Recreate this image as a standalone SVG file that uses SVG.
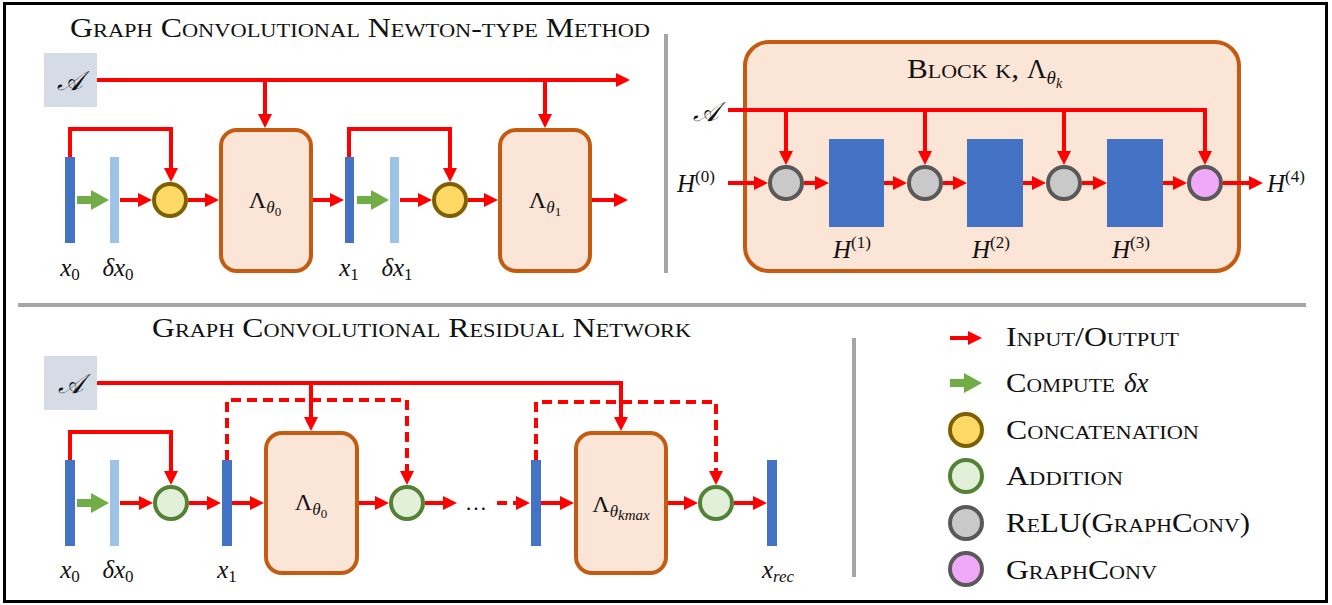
<svg xmlns="http://www.w3.org/2000/svg" width="1332" height="605" viewBox="0 0 1332 605">
<style>
.sc{font-family:"Liberation Serif","Times New Roman",serif;font-variant:small-caps;font-size:27px;fill:#111}
.mi{font-family:"Liberation Serif","Times New Roman",serif;font-style:italic;fill:#111}
.up{font-style:normal}
.cal{font-family:"DejaVu Serif","DejaVu Sans",serif;font-style:italic;font-size:27px;fill:#111}
.r{fill:none;stroke:#ff0000;stroke-width:4}
.ra{fill:none;stroke:#ff0000;stroke-width:4;marker-end:url(#ah)}
.da{stroke-dasharray:10 6}
.blk{fill:#fbe5d6;stroke:#c55a11;stroke-width:4}
.abox{fill:#d6dce5}
.dk{fill:#4472c4}
.lt{fill:#9dc3e6}
.cat{fill:#ffd966;stroke:#7f6000;stroke-width:4}
.add{fill:#e2f0d9;stroke:#548235;stroke-width:4}
.relu{fill:#c9c9c9;stroke:#595959;stroke-width:4}
.gc{fill:#f0a8f8;stroke:#595959;stroke-width:4}
.div{stroke:#a6a6a6;stroke-width:4;fill:none}
</style>
<defs>
<marker id="ah" markerUnits="userSpaceOnUse" markerWidth="16" markerHeight="14" refX="4" refY="7" orient="auto"><path d="M0,0 L14,7 L0,14 Z" fill="#ff0000"/></marker>
<path id="garrow" d="M0,-4 H14 V-10 L32,0 L14,10 V4 H0 Z" fill="#70ad47"/>
</defs>
<rect x="0" y="0" width="1332" height="605" fill="#fff"/>
<rect x="4.5" y="3.5" width="1322" height="598" fill="none" stroke="#000" stroke-width="3"/>
<g id="dividers">
<line class="div" x1="666" y1="34" x2="666" y2="273"/>
<line class="div" x1="18" y1="305" x2="1306" y2="305"/>
<line class="div" x1="854" y1="338" x2="854" y2="577" stroke-width="3"/>
</g>
<g id="titles">
<text class="sc" x="70" y="37" textLength="580" lengthAdjust="spacingAndGlyphs">Graph Convolutional Newton-type Method</text>
<text class="sc" x="152" y="337" textLength="539" lengthAdjust="spacingAndGlyphs">Graph Convolutional Residual Network</text>
</g>

<!-- ===== TOP LEFT ===== -->
<g id="tl-A"><rect class="abox" x="44" y="53" width="53" height="54"/><text class="cal" x="70" y="90" text-anchor="middle">𝒜</text></g>
<g id="tl-x0"><rect class="dk" x="65" y="157" width="10" height="86"/><text class="mi" x="70" y="276" font-size="25" text-anchor="middle">x<tspan class="up" dy="4" font-size="17">0</tspan></text></g>
<g id="tl-dx0"><rect class="lt" x="110" y="157" width="9" height="86"/><text class="mi" x="118" y="276" font-size="25" text-anchor="middle">δx<tspan class="up" dy="4" font-size="17">0</tspan></text></g>
<g id="tl-cat0"><circle class="cat" cx="170" cy="200" r="16"/></g>
<g id="tl-L0"><rect class="blk" x="221" y="130" width="90" height="141" rx="16"/><text class="mi" x="265" y="208" font-size="24" text-anchor="middle"><tspan class="up">Λ</tspan><tspan dy="5" font-size="17">θ</tspan><tspan class="up" dy="3" font-size="13">0</tspan></text></g>
<g id="tl-x1"><rect class="dk" x="345" y="157" width="9" height="86"/><text class="mi" x="349" y="276" font-size="25" text-anchor="middle">x<tspan class="up" dy="4" font-size="17">1</tspan></text></g>
<g id="tl-dx1"><rect class="lt" x="390" y="157" width="9" height="86"/><text class="mi" x="397" y="276" font-size="25" text-anchor="middle">δx<tspan class="up" dy="4" font-size="17">1</tspan></text></g>
<g id="tl-cat1"><circle class="cat" cx="450" cy="200" r="16"/></g>
<g id="tl-L1"><rect class="blk" x="500" y="130" width="90" height="141" rx="16"/><text class="mi" x="545" y="208" font-size="24" text-anchor="middle"><tspan class="up">Λ</tspan><tspan dy="5" font-size="17">θ</tspan><tspan class="up" dy="3" font-size="13">1</tspan></text></g>

<!-- ===== TOP RIGHT ===== -->
<g id="block">
<rect class="blk" x="745" y="42" width="494" height="229" rx="24"/>
<text class="sc" x="907" y="78" textLength="112" lengthAdjust="spacingAndGlyphs">Block k,</text>
<text class="mi" x="1027" y="78" font-size="27"><tspan class="up">Λ</tspan><tspan dy="6" font-size="19">θ</tspan><tspan dy="4" font-size="14">k</tspan></text>
</g>
<g id="br-A"><text class="cal" x="706" y="121" text-anchor="middle" font-size="24">𝒜</text></g>
<g id="br-H0"><text class="mi" x="677" y="192" font-size="25">H<tspan class="up" dy="-10" font-size="17">(0)</tspan></text></g>
<g id="br-c1"><circle class="relu" cx="786" cy="183" r="16"/></g>
<g id="br-H1"><rect class="dk" x="829" y="139" width="55" height="88"/><text class="mi" x="833" y="258" font-size="25">H<tspan class="up" dy="-10" font-size="17">(1)</tspan></text></g>
<g id="br-c2"><circle class="relu" cx="925" cy="183" r="16"/></g>
<g id="br-H2"><rect class="dk" x="967" y="139" width="56" height="88"/><text class="mi" x="972" y="258" font-size="25">H<tspan class="up" dy="-10" font-size="17">(2)</tspan></text></g>
<g id="br-c3"><circle class="relu" cx="1064" cy="183" r="16"/></g>
<g id="br-H3"><rect class="dk" x="1107" y="139" width="56" height="88"/><text class="mi" x="1112" y="258" font-size="25">H<tspan class="up" dy="-10" font-size="17">(3)</tspan></text></g>
<g id="br-c4"><circle class="gc" cx="1205" cy="183" r="16"/></g>
<g id="br-H4"><text class="mi" x="1267" y="192" font-size="25">H<tspan class="up" dy="-10" font-size="17">(4)</tspan></text></g>

<!-- ===== BOTTOM ===== -->
<g id="b-A"><rect class="abox" x="44" y="356" width="53" height="54"/><text class="cal" x="71" y="393" text-anchor="middle">𝒜</text></g>
<g id="b-x0"><rect class="dk" x="65" y="460" width="10" height="86"/><text class="mi" x="70" y="578" font-size="25" text-anchor="middle">x<tspan class="up" dy="4" font-size="17">0</tspan></text></g>
<g id="b-dx0"><rect class="lt" x="110" y="460" width="9" height="86"/><text class="mi" x="118" y="578" font-size="25" text-anchor="middle">δx<tspan class="up" dy="4" font-size="17">0</tspan></text></g>
<g id="b-add0"><circle class="add" cx="171" cy="503" r="16"/></g>
<g id="b-x1"><rect class="dk" x="222" y="460" width="10" height="86"/><text class="mi" x="227" y="578" font-size="25" text-anchor="middle">x<tspan class="up" dy="4" font-size="17">1</tspan></text></g>
<g id="b-L0"><rect class="blk" x="266" y="433" width="91" height="140" rx="16"/><text class="mi" x="311" y="510" font-size="24" text-anchor="middle"><tspan class="up">Λ</tspan><tspan dy="5" font-size="17">θ</tspan><tspan class="up" dy="3" font-size="13">0</tspan></text></g>
<g id="b-add1"><circle class="add" cx="407" cy="503" r="16"/></g>
<g id="b-dots"><text class="mi up" x="476" y="510" font-size="22" text-anchor="middle" font-style="normal">…</text></g>
<g id="b-xk"><rect class="dk" x="531" y="460" width="10" height="86"/></g>
<g id="b-Lk"><rect class="blk" x="576" y="433" width="90" height="140" rx="16"/><text class="mi" x="621" y="512" font-size="24" text-anchor="middle"><tspan class="up">Λ</tspan><tspan dy="5" font-size="17">θ</tspan><tspan dy="3" font-size="15">kmax</tspan></text></g>
<g id="b-add2"><circle class="add" cx="716" cy="503" r="16"/></g>
<g id="b-xrec"><rect class="dk" x="767" y="460" width="10" height="86"/><text class="mi" x="778" y="578" font-size="25" text-anchor="middle">x<tspan dy="4" font-size="17">rec</tspan></text></g>

<!-- ===== LEGEND ===== -->
<g id="legend">
<path class="ra" d="M950,338 H972"/>
<text class="sc" x="1006" y="346" textLength="173" lengthAdjust="spacingAndGlyphs">Input/Output</text>
<use href="#garrow" x="950" y="383"/>
<text class="sc" x="1006" y="392" textLength="109" lengthAdjust="spacingAndGlyphs">Compute</text>
<text class="mi" x="1124" y="392" font-size="27">δx</text>
<circle class="cat" cx="966" cy="430" r="16"/>
<text class="sc" x="1006" y="439" textLength="193" lengthAdjust="spacingAndGlyphs">Concatenation</text>
<circle class="add" cx="966" cy="476" r="16"/>
<text class="sc" x="1006" y="485" textLength="117" lengthAdjust="spacingAndGlyphs">Addition</text>
<circle class="relu" cx="966" cy="523" r="16"/>
<text class="sc" x="1006" y="532" textLength="244" lengthAdjust="spacingAndGlyphs">ReLU(GraphConv)</text>
<circle class="gc" cx="966" cy="569" r="16"/>
<text class="sc" x="1006" y="579" textLength="151" lengthAdjust="spacingAndGlyphs">GraphConv</text>
</g>

<!-- ===== CONNECTORS ===== -->
<g id="connectors">
<!-- top left -->
<path class="ra" d="M97,80 H620"/>
<path class="ra" d="M265,80 V118"/>
<path class="ra" d="M545,80 V118"/>
<use href="#garrow" x="77" y="200"/>
<use href="#garrow" x="357" y="200"/>
<path class="ra" d="M120,200 H142"/>
<path class="ra" d="M70,157 V129 H171 V172"/>
<path class="ra" d="M188,200 H209"/>
<path class="ra" d="M313,200 H334"/>
<path class="ra" d="M400,200 H422"/>
<path class="ra" d="M349,157 V129 H450 V172"/>
<path class="ra" d="M468,200 H488"/>
<path class="ra" d="M592,200 H618"/>
<!-- top right -->
<path class="ra" d="M728,110 H1205 V155"/>
<path class="ra" d="M786,110 V155"/>
<path class="ra" d="M925,110 V155"/>
<path class="ra" d="M1064,110 V155"/>
<path class="ra" d="M728,183 H758"/>
<path class="ra" d="M804,183 H819"/>
<path class="ra" d="M884,183 H897"/>
<path class="ra" d="M943,183 H957"/>
<path class="ra" d="M1023,183 H1036"/>
<path class="ra" d="M1082,183 H1097"/>
<path class="ra" d="M1163,183 H1177"/>
<path class="ra" d="M1223,183 H1253"/>
<!-- bottom -->
<path class="ra" d="M97,383 H621 V421"/>
<path class="ra" d="M311,383 V421"/>
<use href="#garrow" x="77" y="503"/>
<path class="ra" d="M120,503 H143"/>
<path class="ra" d="M70,460 V432 H171 V475"/>
<path class="ra" d="M189,503 H211"/>
<path class="ra" d="M232,503 H254"/>
<path class="ra da" d="M227,460 V400 H407 V475"/>
<path class="ra" d="M359,503 H379"/>
<path class="ra" d="M425,503 H447"/>
<path class="ra da" d="M497,503 H520"/>
<path class="ra" d="M541,503 H564"/>
<path class="ra da" d="M536,460 V402 H716 V475"/>
<path class="ra" d="M668,503 H688"/>
<path class="ra" d="M734,503 H757"/>
</g>
</svg>
